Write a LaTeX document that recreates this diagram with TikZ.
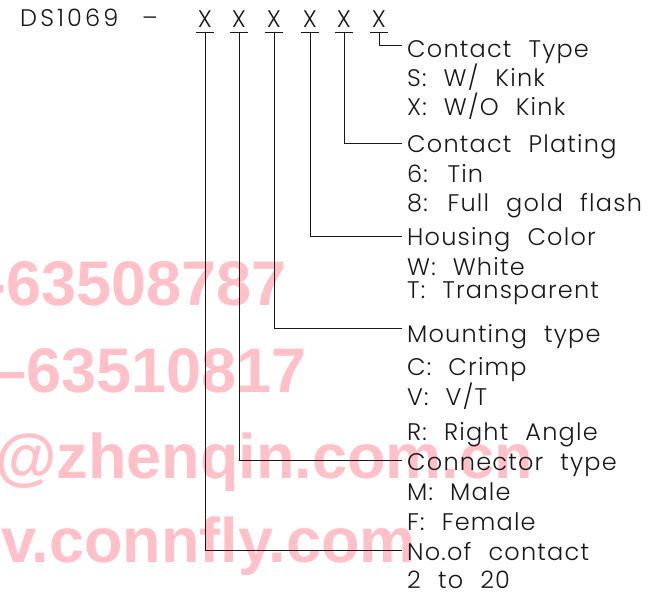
\documentclass[tikz,border=0pt]{standalone}
\usepackage{fontspec}
\setmainfont{Poppins}[UprightFont={* Light}, LetterSpace=5, WordSpace=2.2]
\newfontfamily\wmfont{Liberation Sans}
\newfontfamily\wideds{Poppins}[UprightFont={* Light}, LetterSpace=13]
\definecolor{wm}{RGB}{255,192,200}
\definecolor{ink}{RGB}{25,25,25}
\begin{document}
\begin{tikzpicture}[x=1pt,y=-1pt,
  txt/.style={anchor=base west, inner sep=0pt, font=\fontsize{24}{24}\selectfont, text=ink},
  xmark/.style={anchor=base, inner sep=0pt, font=\fontsize{24}{24}\selectfont, text=ink},
  wmtxt/.style={anchor=base east, inner sep=0pt, font=\wmfont\bfseries\fontsize{63}{63}\selectfont, text=wm},
  lead/.style={draw=ink, line width=0.9pt},
  ul/.style={draw=ink, line width=0.9pt}]
\useasboundingbox (0,0) rectangle (664,596);
% watermark
\begin{scope}
\clip (0,0) rectangle (664,596);
\node[wmtxt] (w1) at (287,305) {-63508787};
\node[wmtxt] (w2) at (307,392) {–63510817};
\node[wmtxt] (w3) at (533,478) {@zhenqin.com.cn};
\node[wmtxt] (w4) at (416,562) {v.connfly.com};
\end{scope}
% part number
\node[txt, font=\wideds\fontsize{24}{24}\selectfont] (ds) at (20,27) {DS1069};
\node[txt] (dash) at (142,27) {–};
\foreach \i/\x in {1/205,2/239,3/274,4/310,5/344,6/379}{
  \node[xmark] (x\i) at (\x,28) {X};
  \coordinate (u\i) at (\x,32);
  \draw[ul] (\x-9,32) -- (\x+9,32);
}
% labels
\node[txt] (t1) at (407,58) {Contact Type};
\node[txt] (t1a) at (407,87) {S: W/ Kink};
\node[txt] (t1b) at (407,116) {X: W/O Kink};
\node[txt] (t2) at (407,153) {Contact Plating};
\node[txt] (t2a) at (407,183) {6: Tin};
\node[txt] (t2b) at (407,212) {8: Full gold flash};
\node[txt] (t3) at (407,246) {Housing Color};
\node[txt] (t3a) at (407,275) {W: White};
\node[txt] (t3b) at (407,298) {T: Transparent};
\node[txt] (t4) at (407,342) {Mounting type};
\node[txt] (t4a) at (407,375) {C: Crimp};
\node[txt] (t4b) at (407,405) {V: V/T};
\node[txt] (t4c) at (407,440) {R: Right Angle};
\node[txt] (t5) at (407,470) {Connector type};
\node[txt] (t5a) at (407,500) {M: Male};
\node[txt] (t5b) at (407,530) {F: Female};
\node[txt] (t6) at (407,560) {No.of contact};
\node[txt] (t6a) at (407,588) {2 to 20};
% leader end points
\coordinate (e6) at (402,45);
\coordinate (e5) at (402,143);
\coordinate (e4) at (402,236);
\coordinate (e3) at (402,328);
\coordinate (e2) at (402,460);
\coordinate (e1) at (402,550);
\foreach \i in {1,...,6}{
  \draw[lead] (u\i) |- (e\i);
}
\end{tikzpicture}
\end{document}
